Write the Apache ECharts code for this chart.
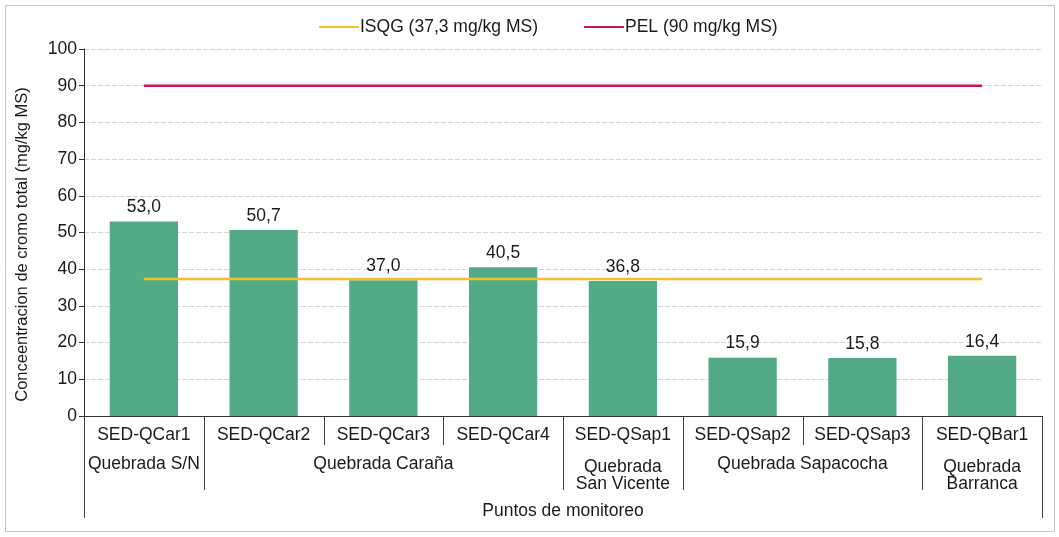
<!DOCTYPE html>
<html>
<head>
<meta charset="utf-8">
<script src="https://cdn.jsdelivr.net/npm/echarts@6/dist/echarts.min.js"></script>
<style>
  html, body { margin: 0; padding: 0; background: #fff; }
  #chart { width: 1059px; height: 537px; }
</style>
</head>
<body>
<div id="chart"></div>
<script>
// Sampling points, their measured chromium values and the reference guidelines
const categories = ['SED-QCar1', 'SED-QCar2', 'SED-QCar3', 'SED-QCar4', 'SED-QSap1', 'SED-QSap2', 'SED-QSap3', 'SED-QBar1'];
const values = [53.0, 50.7, 37.0, 40.5, 36.8, 15.9, 15.8, 16.4];
const groupNames = ['Quebrada S/N', 'Quebrada Caraña', 'Quebrada\nSan Vicente', 'Quebrada Sapacocha', 'Quebrada\nBarranca'];
const groupSizes = [1, 3, 1, 2, 1];
const isqgValue = 37.3;
const pelValue = 90;
const isqgName = 'ISQG (37,3 mg/kg MS)';
const pelName = 'PEL (90 mg/kg MS)';
const yTicks = { min: 0, max: 100, interval: 10 };
const yTitle = 'Conceentracion de cromo total (mg/kg MS)';

const FONT = "'Liberation Sans', Arial, sans-serif";
const TEXT = '#1a1a1a';
const FS = 17.5;

const chart = echarts.init(document.getElementById('chart'), null, { renderer: 'canvas' });

const fmt = v => v.toFixed(1).replace('.', ',');

chart.setOption({
  animation: false,
  textStyle: { fontFamily: FONT },
  grid: { left: 84, right: 17, top: 49, bottom: 121, containLabel: false },
  legend: {
    left: 314,
    top: 13,
    itemWidth: 40,
    itemHeight: 14,
    itemGap: 46,
    textStyle: { fontSize: FS, color: TEXT, fontFamily: FONT, padding: [0, 0, 0, -4] },
    data: [
      { name: isqgName, icon: 'path://M0,6L40,6L40,8L0,8Z' },
      { name: pelName, icon: 'path://M0,6L40,6L40,8L0,8Z' }
    ]
  },
  xAxis: {
    type: 'category',
    data: categories,
    boundaryGap: true,
    axisLine: { show: true, lineStyle: { color: '#333', width: 1 } },
    axisTick: { show: false },
    axisLabel: { fontSize: FS, color: TEXT, margin: 10, fontFamily: FONT, interval: 0 },
    name: 'Puntos de monitoreo',
    nameLocation: 'middle',
    nameGap: 86,
    nameTextStyle: { fontSize: FS, color: TEXT, fontFamily: FONT }
  },
  yAxis: {
    type: 'value',
    min: yTicks.min,
    max: yTicks.max,
    interval: yTicks.interval,
    axisLine: { show: true, lineStyle: { color: '#333', width: 1 } },
    axisTick: { show: true, length: 5, lineStyle: { color: '#333' } },
    axisLabel: { fontSize: FS, color: TEXT, margin: 7, fontFamily: FONT },
    splitLine: { show: true, lineStyle: { color: '#d6d6d6', width: 1, type: [5, 2] } }
  },
  series: [
    {
      name: 'Cromo total',
      type: 'bar',
      data: values,
      barWidth: '57%',
      itemStyle: { color: '#52AB86' },
      label: {
        show: true,
        position: 'top',
        distance: 5,
        fontSize: FS,
        color: TEXT,
        fontFamily: FONT,
        formatter: p => fmt(p.value)
      },
      z: 2
    },
    {
      name: isqgName,
      type: 'line',
      data: categories.map(() => isqgValue),
      symbol: 'none',
      lineStyle: { color: '#F2C22E', width: 2.5 },
      itemStyle: { color: '#F2C22E' },
      z: 3
    },
    {
      name: pelName,
      type: 'line',
      data: categories.map(() => pelValue),
      symbol: 'none',
      lineStyle: { color: '#C8184C', width: 2.5 },
      itemStyle: { color: '#C8184C' },
      z: 3
    }
  ]
});

// Grouped category table under the x axis: separators, group names, y title
function drawGroups() {
  const y0 = chart.convertToPixel({ yAxisIndex: 0 }, 0);
  const yTop = chart.convertToPixel({ yAxisIndex: 0 }, yTicks.max);
  const c0 = chart.convertToPixel({ xAxisIndex: 0 }, 0);
  const c1 = chart.convertToPixel({ xAxisIndex: 0 }, 1);
  const band = c1 - c0;
  const edge = i => c0 - band / 2 + i * band;
  const n = categories.length;

  const lineStyle = { stroke: '#444', lineWidth: 1 };
  const elements = [];

  // boundaries that start a new group
  const groupStarts = new Set();
  let acc = 0;
  groupSizes.forEach(s => { groupStarts.add(acc); acc += s; });

  for (let i = 0; i <= n; i++) {
    let len;
    if (i === 0 || i === n) len = 102;
    else if (groupStarts.has(i)) len = 74;
    else len = 29;
    const x = Math.round(edge(i)) + 0.5;
    elements.push({
      type: 'line',
      shape: { x1: x, y1: y0, x2: x, y2: y0 + len },
      style: lineStyle,
      silent: true
    });
  }

  acc = 0;
  groupNames.forEach((name, gi) => {
    const start = acc;
    const end = acc + groupSizes[gi];
    acc = end;
    const cx = (edge(start) + edge(end)) / 2;
    const twoLines = name.indexOf('\n') >= 0;
    elements.push({
      type: 'text',
      x: cx,
      y: y0 + (twoLines ? 43 : 40),
      style: {
        text: name,
        fill: TEXT,
        font: FS + 'px ' + FONT,
        align: 'center',
        verticalAlign: 'top',
        lineHeight: 17
      },
      silent: true
    });
  });

  // rotated y axis title, centred slightly below the plot middle
  elements.push({
    type: 'text',
    x: 22,
    y: (y0 + yTop) / 2 + 12,
    rotation: Math.PI / 2,
    style: {
      text: yTitle,
      fill: TEXT,
      font: '16.5px ' + FONT,
      align: 'center',
      verticalAlign: 'middle'
    },
    silent: true
  });

  // light frame around the whole figure
  elements.push({
    type: 'rect',
    shape: { x: 5.5, y: 5.5, width: 1049, height: 526 },
    style: { fill: null, stroke: '#c4c4c4', lineWidth: 1 },
    silent: true,
    z: -1
  });

  chart.setOption({ graphic: elements });
}

drawGroups();
</script>
</body>
</html>
